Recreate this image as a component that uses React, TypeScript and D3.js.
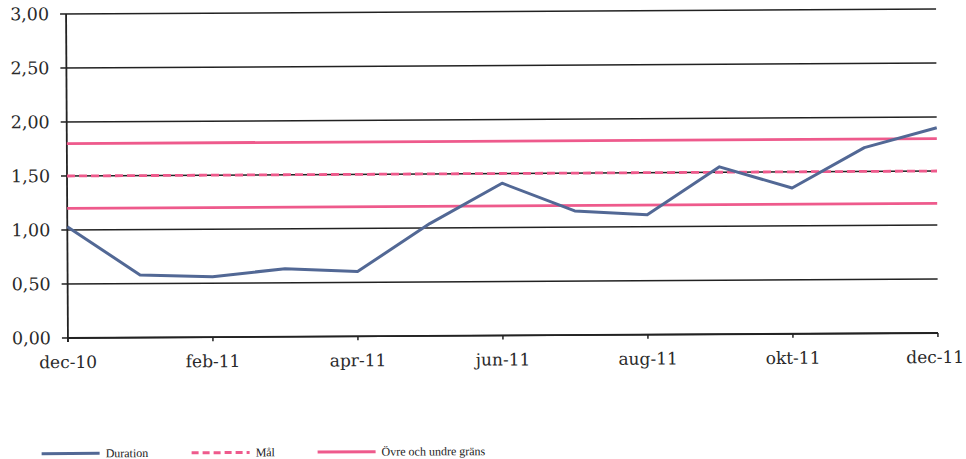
import React from "react";
import * as d3 from "d3";

const months = ["dec-10","jan-11","feb-11","mar-11","apr-11","maj-11","jun-11","jul-11","aug-11","sep-11","okt-11","nov-11","dec-11"];
const duration = [1.03,0.58,0.56,0.63,0.60,1.04,1.41,1.15,1.11,1.55,1.35,1.72,1.90];
const target = 1.5;
const upper = 1.8;
const lower = 1.2;
const yTicks = [0,0.5,1,1.5,2,2.5,3];
const xTickLabels = ["dec-10","feb-11","apr-11","jun-11","aug-11","okt-11","dec-11"];

const W = 966, H = 459;
const left = 67, right = 937, top = 11.5, bottom = 335.5;

export default function App() {
  const x = d3.scalePoint<string>().domain(months).range([left, right]);
  const y = d3.scaleLinear().domain([0, 3]).range([bottom, top]);
  const line = d3.line<number>().x((_, i) => x(months[i])!).y(d => y(d));
  const fmt = (v: number) => v.toFixed(2).replace(".", ",");
  const pink = "#ee5a8c";
  const blue = "#526895";
  const serif = "'DejaVu Serif', serif";
  const legendFont = "'Liberation Serif', serif";
  return (
    <svg width={W} height={H} style={{ position: "absolute", left: 0, top: 0, background: "#fff" }}>
      <g transform={`rotate(-0.33 502 173.5)`}>
        {yTicks.map(t => (
          <g key={t}>
            <line x1={left - 6} x2={right} y1={y(t)} y2={y(t)} stroke="#222" strokeWidth={1.5} />
            <text x={50} y={y(t) + 6} textAnchor="end" fontFamily={serif} fontSize={17.5} fill="#2a2a2a">{fmt(t)}</text>
          </g>
        ))}
        <line x1={left} x2={left} y1={top} y2={bottom + 4} stroke="#222" strokeWidth={1.8} />
        <line x1={left} x2={right} y1={bottom} y2={bottom} stroke="#222" strokeWidth={1.8} />
        {xTickLabels.map((m, i) => {
          const last = i === xTickLabels.length - 1;
          return (
            <g key={m}>
              <line x1={x(m)!} x2={x(m)!} y1={bottom} y2={bottom + 4} stroke="#222" strokeWidth={1.5} />
              <text x={last ? 963 : x(m)!} y={bottom + 30} textAnchor={last ? "end" : "middle"} fontFamily={serif} fontSize={17} fill="#2a2a2a">{m}</text>
            </g>
          );
        })}
        <line x1={left} x2={right} y1={y(upper)} y2={y(upper)} stroke={pink} strokeWidth={2.8} />
        <line x1={left} x2={right} y1={y(lower)} y2={y(lower)} stroke={pink} strokeWidth={2.8} />
        <line x1={left} x2={right} y1={y(target)} y2={y(target)} stroke={pink} strokeWidth={2.8} strokeDasharray="8 4" />
        <path d={line(duration)!} fill="none" stroke={blue} strokeWidth={3} strokeLinejoin="round" />
        <g>
          <line x1={40} x2={98} y1={451} y2={451} stroke={blue} strokeWidth={3} />
          <text x={104} y={455} fontFamily={legendFont} fontSize={12} fill="#222">Duration</text>
          <line x1={190} x2={248} y1={451} y2={451} stroke={pink} strokeWidth={3} strokeDasharray="7 4" />
          <text x={254} y={455} fontFamily={legendFont} fontSize={12} fill="#222">Mål</text>
          <line x1={316} x2={374} y1={451} y2={451} stroke={pink} strokeWidth={3} />
          <text x={380} y={455} fontFamily={legendFont} fontSize={12} fill="#222">Övre och undre gräns</text>
        </g>
      </g>
    </svg>
  );
}
